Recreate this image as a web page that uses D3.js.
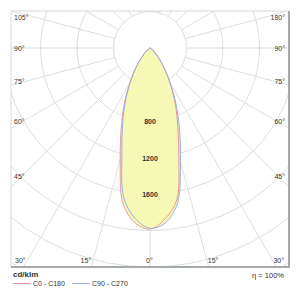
<!DOCTYPE html>
<html><head><meta charset="utf-8">
<script src="https://cdn.jsdelivr.net/npm/d3@7"></script>
<style>html,body{margin:0;padding:0;background:#fff;}svg{display:block;font-family:"Liberation Sans",Arial,sans-serif;}</style>
</head><body>
<svg id="c" width="300" height="298"></svg>
<script>
// ---- data ----
const angles = [0,5,10,15,20,25,30,35,40,45,50,55,60,65,70,75,80,85,90];
const c0   = [1985,1920,1720,1260,920,660,445,285,172,98,52,26,11,4,0,0,0,0,0]; // left, C0-C180
const c180 = [1985,1880,1690,1215,885,640,430,272,165,92,48,24,10,4,0,0,0,0,0]; // right, C0-C180
const c90  = [1975,1875,1660,1190,875,635,430,275,166,94,50,25,10,4,0,0,0,0,0]; // left, C90-C270
const c270 = [1975,1925,1730,1290,945,670,450,285,170,96,51,25,10,4,0,0,0,0,0]; // right, C90-C270
const ringValues = [400,800,1200,1600,2000,2400,2800];
const ringLabels = [800,1200,1600];
const sideAngles = [105,90,75,60,45];
const sideLabelsLeft = ["105°","90°","75°","60°","45°"];
const sideLabelsRight = ["180°","90°","75°","60°","45°"];
const bottomAngles = [-30,-15,0,15,30];
const bottomLabels = ["30°","15°","0°","15°","30°"];
const legendItems = ["C0 - C180","C90 - C270"];

// ---- layout ----
const svg = d3.select("#c");
const L=11,T=11,R=289,B=267;
const cx=150, cy=48;
const r = d3.scaleLinear().domain([0,2400]).range([0,219]);
const grid="#d9e0dd", txt="#333";

svg.append("defs").append("clipPath").attr("id","fr")
  .append("rect").attr("x",L).attr("y",T).attr("width",R-L).attr("height",B-T);
const g = svg.append("g").attr("clip-path","url(#fr)");

// rings
g.selectAll("circle.ring").data(ringValues).join("circle")
  .attr("cx",cx).attr("cy",cy).attr("r",d=>r(d))
  .attr("fill","none").attr("stroke",grid).attr("stroke-width",1);
// radial lines
const spokes = d3.range(-180,181,15);
g.selectAll("line.sp").data(spokes).join("line")
  .attr("x1",d=>cx+r(400)*Math.sin(d*Math.PI/180))
  .attr("y1",d=>cy+r(400)*Math.cos(d*Math.PI/180))
  .attr("x2",d=>cx+r(4000)*Math.sin(d*Math.PI/180))
  .attr("y2",d=>cy+r(4000)*Math.cos(d*Math.PI/180))
  .attr("stroke",grid).attr("stroke-width",1);

// curves
function pts(left,right){
  const p=[];
  for(let i=angles.length-1;i>=0;i--) p.push([Math.PI+angles[i]*Math.PI/180, r(left[i])]);
  for(let i=1;i<angles.length;i++) p.push([Math.PI-angles[i]*Math.PI/180, r(right[i])]);
  return p;
}
const lr = d3.lineRadial().angle(d=>d[0]).radius(d=>d[1]).curve(d3.curveCatmullRomClosed);
const cg = g.append("g").attr("transform",`translate(${cx},${cy})`);
const series=[{p:pts(c0,c180),col:"#e79a9a"},{p:pts(c90,c270),col:"#9aaee8"}];
cg.selectAll("path.f").data(series).join("path").attr("d",d=>lr(d.p)).attr("fill","#f6f8b6").attr("stroke","none");
cg.selectAll("path.s").data(series).join("path").attr("d",d=>lr(d.p)).attr("fill","none").attr("stroke",d=>d.col).attr("stroke-width",1);

// ring labels
svg.selectAll("text.rl").data(ringLabels).join("text")
  .attr("x",cx).attr("y",d=>cy+r(d)+3).attr("text-anchor","middle")
  .attr("font-size",7).attr("font-weight","bold").attr("fill",txt).text(d=>d);

// side labels
function sideY(a){
  const t=a*Math.PI/180;
  const y = cy + (cx-20)/Math.tan(t);
  return Math.max(20, a===90 ? cy+2.5 : y+1);
}
svg.selectAll("text.sl").data(sideAngles).join("text")
  .attr("x",14).attr("y",d=>sideY(d)).attr("font-size",7).attr("fill",txt)
  .text((d,i)=>sideLabelsLeft[i]);
svg.selectAll("text.sr").data(sideAngles).join("text")
  .attr("x",285).attr("y",d=>sideY(d)).attr("text-anchor","end").attr("font-size",7).attr("fill",txt)
  .text((d,i)=>sideLabelsRight[i]);
// bottom labels
svg.selectAll("text.bl").data(bottomAngles).join("text")
  .attr("x",d=>{const x=cx+(260-cy)*Math.tan(d*Math.PI/180); return d<0? x-2 : (d===0? x-4 : x+1);})
  .attr("y",262.5).attr("text-anchor",d=>d<0?"end":"start")
  .attr("font-size",7).attr("fill",txt).text((d,i)=>bottomLabels[i]);

// frame
svg.append("line").attr("x1",L).attr("y1",T).attr("x2",R).attr("y2",T).attr("stroke","#d4dad8").attr("stroke-width",1);
svg.append("line").attr("x1",L).attr("y1",T).attr("x2",L).attr("y2",B).attr("stroke","#d4dad8").attr("stroke-width",1);
svg.append("line").attr("x1",R).attr("y1",T).attr("x2",R).attr("y2",B+1).attr("stroke","#a4aaa8").attr("stroke-width",2);
svg.append("line").attr("x1",L).attr("y1",B).attr("x2",R+1).attr("y2",B).attr("stroke","#a4aaa8").attr("stroke-width",2);

// legend
svg.append("text").attr("x",13).attr("y",277).attr("font-size",8).attr("font-weight","bold").attr("fill",txt).text("cd/klm");
const lx=[13,72], cols=["#e79a9a","#9aaee8"];
legendItems.forEach((t,i)=>{
  svg.append("line").attr("x1",lx[i]).attr("x2",lx[i]+18).attr("y1",283.5).attr("y2",283.5).attr("stroke",cols[i]).attr("stroke-width",1);
  svg.append("text").attr("x",lx[i]+20).attr("y",286).attr("font-size",7).attr("fill",txt).text(t);
});
svg.append("text").attr("x",284).attr("y",278).attr("text-anchor","end").attr("font-size",7.5).attr("fill",txt).text("η = 100%");
</script>
</body></html>
